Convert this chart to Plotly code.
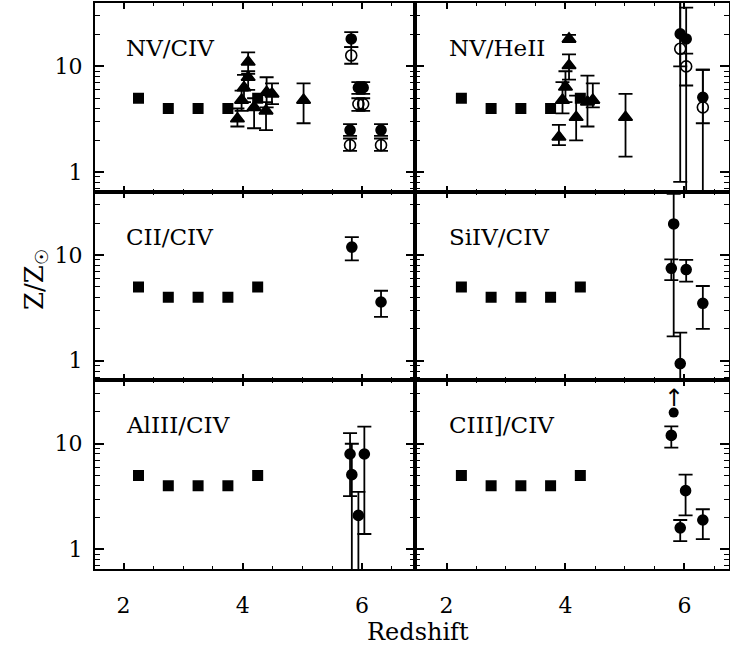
import math
import plotly.graph_objects as go

# ---------------- data ----------------
panel_names = ["NV/CIV", "NV/HeII", "CII/CIV", "SiIV/CIV", "AlIII/CIV", "CIII]/CIV"]
x_tick_vals = [2, 4, 6]
y_tick_vals = [1, 10]
y_tick_text = ["1", "10"]

# model squares (same in every panel)
sq_z = [2.25, 2.75, 3.25, 3.75, 4.25]
sq_val = [5.0, 4.0, 4.0, 4.0, 5.0]

# NV/CIV
nvciv_tri_z = [3.91, 3.98, 4.02, 4.09, 4.09, 4.19, 4.39, 4.40, 4.49, 5.02]
nvciv_tri_val = [3.2, 4.8, 6.3, 7.9, 11.0, 4.1, 3.8, 5.7, 5.5, 4.8]
nvciv_tri_hi = [4.0, 5.9, 8.3, 9.0, 13.6, 5.0, 4.6, 7.9, 6.9, 6.9]
nvciv_tri_lo = [2.7, 3.8, 4.6, 6.0, 8.5, 2.6, 2.5, 4.1, 4.4, 2.9]
nvciv_fil_z = [5.82, 5.94, 6.02, 5.80, 6.32]
nvciv_fil_val = [18.2, 6.3, 6.3, 2.5, 2.5]
nvciv_fil_hi = [21.1, 7.1, 7.1, 2.85, 2.85]
nvciv_fil_lo = [15.2, 5.5, 5.5, 2.2, 2.2]
nvciv_open_z = [5.82, 5.94, 6.02, 5.80, 6.32]
nvciv_open_val = [12.7, 4.4, 4.4, 1.8, 1.8]
nvciv_open_hi = [15.2, 5.0, 5.0, 2.08, 2.08]
nvciv_open_lo = [10.6, 3.8, 3.8, 1.59, 1.59]

# NV/HeII
nvheii_tri_z = [3.89, 3.95, 4.00, 4.06, 4.06, 4.18, 4.37, 4.46, 5.01]
nvheii_tri_val = [2.15, 4.8, 6.4, 10.2, 18.2, 3.3, 4.6, 4.8, 3.3]
nvheii_tri_hi = [2.8, 7.1, 9.0, 13.0, 19.9, 5.3, 8.2, 6.9, 5.5]
nvheii_tri_lo = [1.8, 3.6, 4.6, 7.5, 17.0, 2.0, 2.7, 4.1, 1.4]
nvheii_fil_z = [5.93, 6.03, 6.31]
nvheii_fil_val = [20.3, 18.2, 5.1]
nvheii_fil_hi = [60.0, 36.0, 9.3]
nvheii_fil_lo = [0.81, 0.3, 2.9]
nvheii_open_z = [5.93, 6.03, 6.31]
nvheii_open_val = [14.7, 10.0, 4.1]
nvheii_open_hi = [60.0, 13.2, 9.3]
nvheii_open_lo = [10.0, 6.6, 0.3]

# CII/CIV
ciiciv_fil_z = [5.83, 6.32]
ciiciv_fil_val = [11.9, 3.6]
ciiciv_fil_hi = [14.8, 4.6]
ciiciv_fil_lo = [8.9, 2.6]

# SiIV/CIV
siiv_fil_z = [5.82, 5.78, 6.03, 6.31, 5.93]
siiv_fil_val = [19.7, 7.5, 7.3, 3.5, 0.94]
siiv_fil_hi = [38.0, 9.1, 9.0, 5.1, 1.85]
siiv_fil_lo = [1.7, 5.8, 5.6, 2.0, 0.2]

# AlIII/CIV
aliii_fil_z = [5.80, 5.83, 5.94, 6.04]
aliii_fil_val = [8.0, 5.1, 2.1, 8.0]
aliii_fil_hi = [12.6, 10.0, 3.5, 14.5]
aliii_fil_lo = [3.2, 0.2, 0.2, 1.4]

# CIII]/CIV
ciii_fil_z = [5.78, 6.02, 5.93, 6.31]
ciii_fil_val = [12.0, 3.6, 1.6, 1.9]
ciii_fil_hi = [14.6, 5.1, 1.9, 2.4]
ciii_fil_lo = [9.2, 2.1, 1.2, 1.25]
ciii_lim_z = [5.82]
ciii_lim_val = [19.7]
ciii_lim_arrow = [27.0]

# ---------------- layout helpers ----------------
FONT = "DejaVu Serif"
W, H = 730, 656
ML, MR, MT, MB = 95, 1, 3, 87
pw = W - ML - MR
ph = H - MT - MB
col_split = (415 - ML) / pw
row_b = [2 / 3, 1 / 3, 0]
row_t = [1, 2 / 3, 1 / 3]
x_ranges = [[1.52, 6.89], [1.47, 6.75]]
y_range = [-0.185, 1.60]

fig = go.Figure()

def ax_id(k):
    return "" if k == 1 else str(k)

def add_pts(k, z, val, hi, lo, symbol, size):
    fig.add_trace(go.Scatter(
        x=z, y=val, mode="markers",
        xaxis="x" + ax_id(k), yaxis="y" + ax_id(k),
        marker=dict(symbol=symbol, size=size, color="black",
                    line=dict(color="black", width=1.6)),
        error_y=dict(type="data", symmetric=False,
                     array=[h - v for h, v in zip(hi, val)],
                     arrayminus=[v - l for v, l in zip(val, lo)],
                     color="black", thickness=1.8, width=7),
        showlegend=False, hoverinfo="skip"))

def add_sq(k):
    fig.add_trace(go.Scatter(
        x=sq_z, y=sq_val, mode="markers",
        xaxis="x" + ax_id(k), yaxis="y" + ax_id(k),
        marker=dict(symbol="square", size=11, color="black"),
        showlegend=False, hoverinfo="skip"))

# panel 1
add_sq(1)
add_pts(1, nvciv_tri_z, nvciv_tri_val, nvciv_tri_hi, nvciv_tri_lo, "triangle-up", 12)
add_pts(1, nvciv_open_z, nvciv_open_val, nvciv_open_hi, nvciv_open_lo, "circle-open", 11)
add_pts(1, nvciv_fil_z, nvciv_fil_val, nvciv_fil_hi, nvciv_fil_lo, "circle", 10)
# panel 2
add_sq(2)
add_pts(2, nvheii_tri_z, nvheii_tri_val, nvheii_tri_hi, nvheii_tri_lo, "triangle-up", 12)
add_pts(2, nvheii_open_z, nvheii_open_val, nvheii_open_hi, nvheii_open_lo, "circle-open", 11)
add_pts(2, nvheii_fil_z, nvheii_fil_val, nvheii_fil_hi, nvheii_fil_lo, "circle", 10)
# panel 3
add_sq(3)
add_pts(3, ciiciv_fil_z, ciiciv_fil_val, ciiciv_fil_hi, ciiciv_fil_lo, "circle", 10)
# panel 4
add_sq(4)
add_pts(4, siiv_fil_z, siiv_fil_val, siiv_fil_hi, siiv_fil_lo, "circle", 10)
# panel 5
add_sq(5)
add_pts(5, aliii_fil_z, aliii_fil_val, aliii_fil_hi, aliii_fil_lo, "circle", 10)
# panel 6
add_sq(6)
add_pts(6, ciii_fil_z, ciii_fil_val, ciii_fil_hi, ciii_fil_lo, "circle", 10)
fig.add_trace(go.Scatter(
    x=ciii_lim_z, y=ciii_lim_val, mode="markers", xaxis="x6", yaxis="y6",
    marker=dict(symbol="circle", size=10, color="black"),
    showlegend=False, hoverinfo="skip"))

layout = dict(
    template="none",
    width=W, height=H,
    margin=dict(l=ML, r=MR, t=MT, b=MB, autoexpand=False),
    paper_bgcolor="white", plot_bgcolor="white",
    font=dict(family=FONT, size=22, color="black"),
    showlegend=False,
)

minor_y = [0.7, 0.8, 0.9, 2, 3, 4, 5, 6, 7, 8, 9, 20, 30]
annotations = []
for k in range(1, 7):
    row = (k - 1) // 2
    col = (k - 1) % 2
    xd = [0, col_split] if col == 0 else [col_split, 1]
    yd = [row_b[row], row_t[row]]
    xa = dict(
        domain=xd, range=x_ranges[col], anchor="y" + ax_id(k), automargin=False,
        showline=True, linecolor="black", linewidth=2, mirror="allticks",
        ticks="inside", ticklen=6, tickwidth=1.5, tickcolor="black",
        tickvals=x_tick_vals, showticklabels=(row == 2),
        ticklabelstandoff=16,
        tickfont=dict(family=FONT, size=22, color="black"),
        minor=dict(ticks="inside", ticklen=3, tickwidth=1.2, tickcolor="black", dtick=0.5, tick0=0),
        showgrid=False, zeroline=False,
    )
    ya = dict(
        domain=yd, range=y_range, type="log", anchor="x" + ax_id(k), automargin=False,
        showline=True, linecolor="black", linewidth=2, mirror="allticks",
        ticks="inside", ticklen=9, tickwidth=1.5, tickcolor="black",
        tickvals=y_tick_vals, ticktext=y_tick_text, showticklabels=(col == 0),
        ticklabelstandoff=6,
        tickfont=dict(family=FONT, size=22, color="black"),
        minor=dict(ticks="inside", ticklen=5, tickwidth=1.2, tickcolor="black", tickvals=minor_y),
        showgrid=False, zeroline=False,
    )
    layout["xaxis" + ax_id(k)] = xa
    layout["yaxis" + ax_id(k)] = ya
    annotations.append(dict(
        text=panel_names[k - 1], xref="x" + ax_id(k), yref="y" + ax_id(k) + " domain",
        x=2.0, y=1 - 45 / 189, xanchor="left", yanchor="middle", showarrow=False,
        font=dict(family=FONT, size=23, color="black")))

# lower-limit arrow (as a glyph)
annotations.append(dict(
    text="↑", x=ciii_lim_z[0], y=math.log10(ciii_lim_arrow[0]),
    xref="x6", yref="y6", xanchor="center", yanchor="middle", showarrow=False,
    font=dict(family="DejaVu Sans", size=24, color="black")))

# axis titles
annotations.append(dict(
    text="Redshift", xref="paper", yref="paper",
    x=(418 - ML) / pw, y=-(632 - (H - MB)) / ph, xanchor="center", yanchor="middle",
    showarrow=False, font=dict(family=FONT, size=24, color="black")))
annotations.append(dict(
    text="Z/Z<sub>☉</sub>", xref="paper", yref="paper",
    x=-(ML - 36) / pw, y=1 - (280 - MT) / ph, xanchor="center", yanchor="middle",
    textangle=-90, showarrow=False, font=dict(family=FONT, size=26, color="black")))

layout["annotations"] = annotations
fig.update_layout(**layout)
fig.write_html(
    "out.html",
    config={"displayModeBar": False},
    post_script="document.body.style.margin='0px';document.body.style.padding='0px';",
)
